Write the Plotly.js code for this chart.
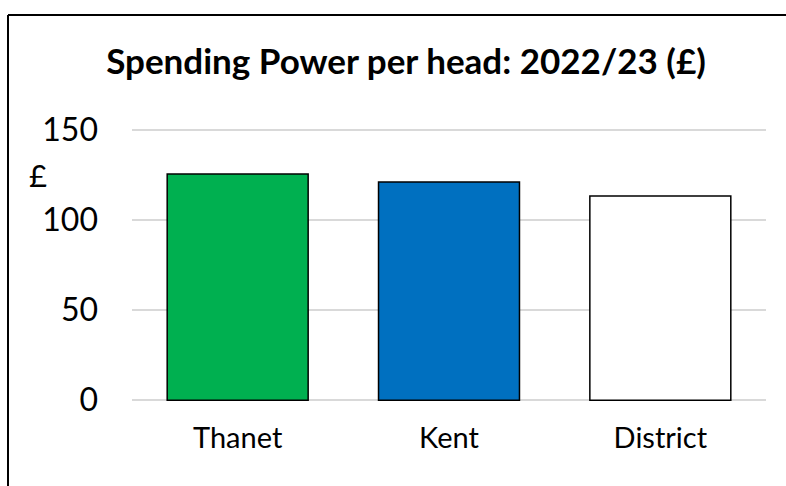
<!DOCTYPE html>
<html>
<head>
<meta charset="utf-8">
<script src="https://cdn.plot.ly/plotly-3.0.1.min.js"></script>
<style>
  html, body { margin: 0; padding: 0; background: #fff; }
  #chart { width: 786px; height: 486px; }
</style>
</head>
<body>
<div id="chart"></div>
<script>
const categories = ["Thanet", "Kent", "District"];
const values = [125.5, 121, 113.3];
const barColors = ["#00B050", "#0070C0", "#FFFFFF"];
const yTickVals = [0, 50, 100, 150];
const yTickText = ["0", "50", "100", "150"];
const chartTitle = "Spending Power per head: 2022/23 (£)";
const yUnit = "£";

const W = 786, H = 486;
const M = { l: 132, r: 20, t: 128, b: 84 };
const pw = W - M.l - M.r, ph = H - M.t - M.b;
const px = x => (x - M.l) / pw;
const py = y => 1 - (y - M.t) / ph;

const font = "Lato, 'Open Sans', sans-serif";

const trace = {
  type: "bar",
  x: categories,
  y: values,
  marker: { color: barColors, line: { color: "#000", width: 1.5 } },
  hoverinfo: "x+y"
};

const layout = {
  width: W, height: H,
  margin: M,
  paper_bgcolor: "#fff",
  plot_bgcolor: "#fff",
  showlegend: false,
  bargap: 0.333,
  font: { family: font, color: "#000" },
  title: {
    text: "<b>" + chartTitle + "</b>",
    font: { family: font, size: 35, color: "#000" },
    x: 406 / W, xanchor: "center", xref: "container",
    y: 1 - 62 / H, yanchor: "middle", yref: "container"
  },
  xaxis: {
    showgrid: false, zeroline: false, showline: false, ticks: "",
    tickfont: { family: font, size: 29, color: "#000" },
    ticklabelstandoff: 16
  },
  yaxis: {
    range: [-1, 151],
    tickvals: yTickVals, ticktext: yTickText,
    showgrid: true, gridcolor: "#d9d9d9", gridwidth: 1.5,
    zeroline: false, showline: false, ticks: "",
    tickfont: { family: font, size: 32, color: "#000" },
    ticklabelstandoff: 33
  },
  annotations: [{
    text: yUnit, xref: "paper", yref: "paper",
    x: px(38), y: py(175), xanchor: "center", yanchor: "middle",
    showarrow: false, font: { family: font, size: 31, color: "#000" }
  }],
  shapes: [
    { type: "line", xref: "paper", yref: "paper", x0: px(8), x1: px(790), y0: py(15), y1: py(15), line: { color: "#000", width: 2 } },
    { type: "line", xref: "paper", yref: "paper", x0: px(8), x1: px(8), y0: py(15), y1: py(490), line: { color: "#000", width: 2 } }
  ]
};

Plotly.newPlot("chart", [trace], layout, { displayModeBar: false, staticPlot: true });
</script>
</body>
</html>
